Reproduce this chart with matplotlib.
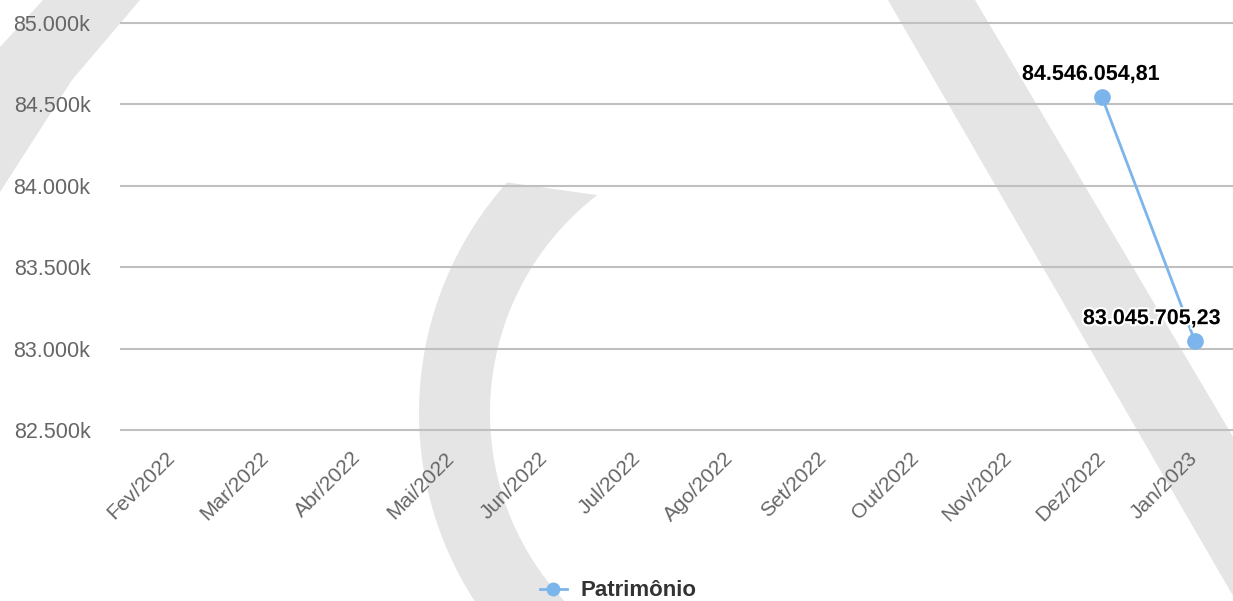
import numpy as np
import matplotlib
matplotlib.use('Agg')
import matplotlib.pyplot as plt
import matplotlib.patheffects as pe
from matplotlib.patches import Polygon
from matplotlib.lines import Line2D
from matplotlib.ticker import FuncFormatter

plt.rcParams['font.family'] = ['Liberation Sans', 'DejaVu Sans']

# Dados do patrimônio
meses = ['Fev/2022', 'Mar/2022', 'Abr/2022', 'Mai/2022', 'Jun/2022', 'Jul/2022',
         'Ago/2022', 'Set/2022', 'Out/2022', 'Nov/2022', 'Dez/2022', 'Jan/2023']
patrimonio = [None, None, None, None, None, None,
              None, None, None, None, 84546054.81, 83045705.23]
rotulos = ['84.546.054,81', '83.045.705,23']
yticks = [82500000, 83000000, 83500000, 84000000, 84500000, 85000000]

W, H = 1233, 601
fig = plt.figure(figsize=(W / 100, H / 100), dpi=100)
fig.patch.set_facecolor('white')


def px(x, y):
    return (x / W, 1 - y / H)


# marca d'água ao fundo
cinza = '#e5e5e5'
faixa_esq = [px(43, 0), px(140, 0), px(72, 80), px(0, 192), px(0, 47)]
faixa_dir = [px(888, 0), px(975, 0), px(1330, 601), px(1236, 601)]
for pts in (faixa_esq, faixa_dir):
    fig.patches.append(Polygon(pts, closed=True, transform=fig.transFigure,
                               facecolor=cinza, edgecolor='none', zorder=0))

cx, cy = 765, 413
ang_ext = np.radians(np.linspace(138.2, 250, 80))
ang_int = np.radians(np.linspace(250, 127.6, 80))
arco = [px(cx + 346 * np.cos(a), cy - 346 * np.sin(a)) for a in ang_ext]
arco += [px(cx + 275 * np.cos(a), cy - 275 * np.sin(a)) for a in ang_int]
fig.patches.append(Polygon(arco, closed=True, transform=fig.transFigure,
                           facecolor=cinza, edgecolor='none', zorder=0))

ax = fig.add_axes([121 / W, (H - 430) / H, (W - 121) / W, 407 / H])
ax.set_facecolor('none')
ax.set_zorder(2)

x = np.arange(len(meses))
y = np.array([np.nan if v is None else v for v in patrimonio])
ax.plot(x, y, color='#7cb5ec', lw=2, marker='o', markersize=11, zorder=3,
        clip_on=False)

idx = [i for i, v in enumerate(patrimonio) if v is not None]
desloc = [(-11, 12), (-43, 12)]
for k, i in enumerate(idx):
    ax.annotate(rotulos[k], (x[i], patrimonio[i]), xytext=desloc[k],
                textcoords='offset pixels', ha='center', va='bottom',
                fontsize=15.5, fontweight='bold', color='black', zorder=4,
                path_effects=[pe.withStroke(linewidth=3, foreground='white')])

ax.set_xlim(-0.55, 11.41)
ax.set_ylim(82500000, 85000000)
ax.set_xticks(x)
ax.set_xticklabels(meses, rotation=45, ha='right', va='center',
                   rotation_mode='anchor', fontsize=15, color='#666666')
ax.set_yticks(yticks)
ax.yaxis.set_major_formatter(FuncFormatter(
    lambda v, p: '{:,.0f}k'.format(v / 1000).replace(',', '.')))
ax.tick_params(axis='y', length=0, pad=22, labelsize=15.5, labelcolor='#666666')
ax.tick_params(axis='x', length=0, pad=18)

ax.grid(axis='y', color='#c0c0c0', lw=1.5)
ax.set_axisbelow(True)
for gl in ax.get_ygridlines():
    gl.set_clip_on(False)
for s in ax.spines.values():
    s.set_visible(False)

handle = Line2D([], [], color='#7cb5ec', lw=2, marker='o', markersize=9)
fig.legend([handle], ['Patrimônio'], loc='center', bbox_to_anchor=px(618, 591),
           frameon=False, prop={'weight': 'bold', 'size': 16}, labelcolor='#333333',
           handlelength=1.2, handletextpad=0.6)

fig.savefig('out.png', dpi=100, facecolor='white')
